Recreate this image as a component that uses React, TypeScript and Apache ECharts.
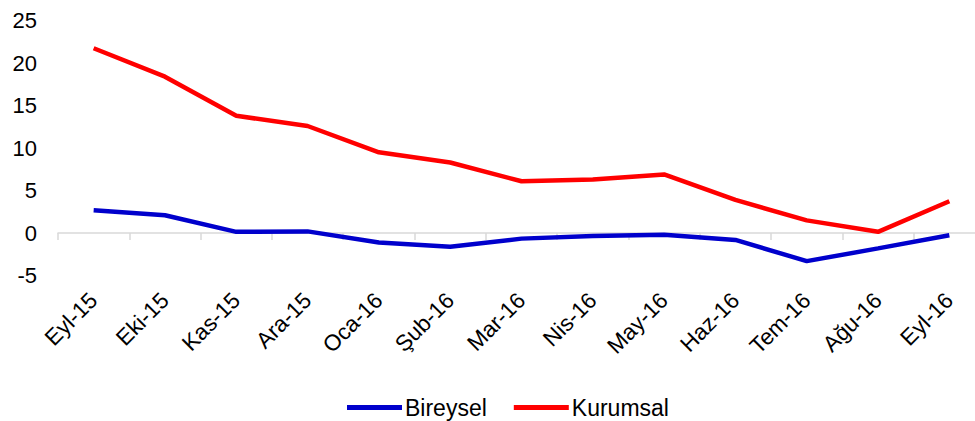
import React, { useEffect, useRef } from "react";
import * as echarts from "echarts";

const categories = ["Eyl-15", "Eki-15", "Kas-15", "Ara-15", "Oca-16", "Şub-16", "Mar-16", "Nis-16", "May-16", "Haz-16", "Tem-16", "Ağu-16", "Eyl-16"];
const bireysel = [2.7, 2.1, 0.15, 0.2, -1.1, -1.6, -0.65, -0.35, -0.2, -0.8, -3.3, -1.8, -0.25];
const kurumsal = [21.75, 18.4, 13.8, 12.6, 9.5, 8.3, 6.1, 6.3, 6.9, 3.9, 1.5, 0.15, 3.75];
const yMin = -5;
const yMax = 25;
const yStep = 5;

const FONT = "'Liberation Sans', Arial, sans-serif";

export default function App() {
  const ref = useRef<HTMLDivElement>(null);
  useEffect(() => {
    document.body.style.margin = "0";
    document.body.style.overflow = "hidden";
    if (!ref.current) return;
    const chart = echarts.init(ref.current, null, { renderer: "svg" });
    chart.setOption({
      animation: false,
      textStyle: { fontFamily: FONT },
      grid: { left: 58, right: 0, top: 20.6, bottom: 145.4, containLabel: false },
      legend: {
        left: 342,
        top: 391,
        itemWidth: 55,
        itemHeight: 5,
        itemGap: 27,
        icon: "rect",
        textStyle: { fontFamily: FONT, fontSize: 23, color: "#000", padding: [0, 0, 0, -2] },
        data: ["Bireysel", "Kurumsal"],
      },
      xAxis: [
        {
          type: "category",
          data: categories,
          position: "bottom",
          boundaryGap: true,
          axisLine: { show: false, onZero: false },
          axisTick: { show: false },
          axisLabel: {
            rotate: 45,
            margin: 21,
            fontSize: 22.5,
            color: "#000",
            fontFamily: FONT,
            interval: 0,
          },
        },
        {
          type: "category",
          data: categories,
          position: "bottom",
          boundaryGap: true,
          axisLine: { show: true, onZero: true, onZeroAxisIndex: 0, lineStyle: { color: "#d9d9d9", width: 1.5 } },
          axisTick: { show: true, length: 7, lineStyle: { color: "#d9d9d9", width: 1.5 } },
          axisLabel: { show: false },
        },
      ],
      yAxis: {
        type: "value",
        min: yMin,
        max: yMax,
        interval: yStep,
        axisLine: { show: false },
        axisTick: { show: false },
        splitLine: { show: false },
        axisLabel: { margin: 21, fontSize: 22, color: "#000", fontFamily: FONT },
      },
      series: [
        {
          name: "Bireysel",
          type: "line",
          data: bireysel,
          xAxisIndex: 0,
          symbol: "none",
          lineStyle: { color: "#0000CC", width: 4.5 },
          itemStyle: { color: "#0000CC" },
        },
        {
          name: "Kurumsal",
          type: "line",
          data: kurumsal,
          xAxisIndex: 0,
          symbol: "none",
          lineStyle: { color: "#FF0000", width: 4.5 },
          itemStyle: { color: "#FF0000" },
        },
      ],
    });
    return () => chart.dispose();
  }, []);
  return (
    <div style={{ position: "fixed", left: 0, top: 0, width: 975, height: 421, overflow: "hidden", background: "#fff" }}>
      <div ref={ref} style={{ position: "absolute", left: 0, top: 0, width: 985, height: 421 }} />
    </div>
  );
}
